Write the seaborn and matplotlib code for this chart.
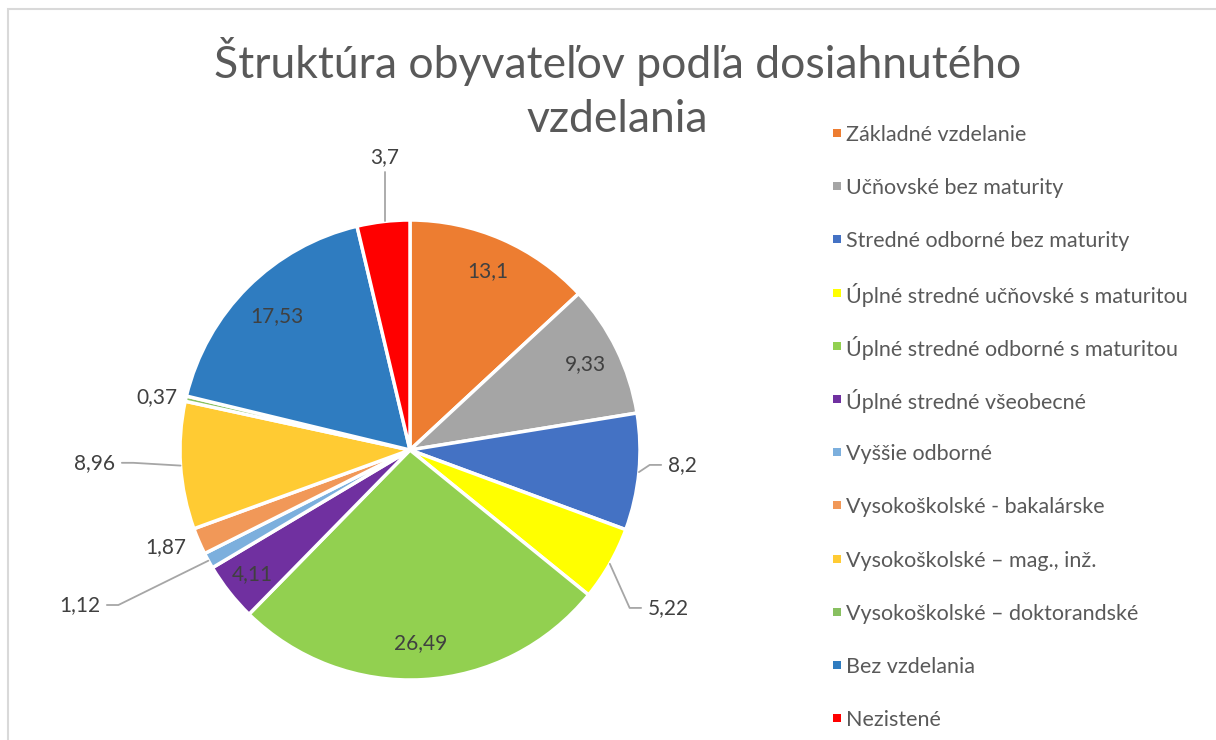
import numpy as np
import matplotlib
matplotlib.use("Agg")
import matplotlib.pyplot as plt
import seaborn as sns
from matplotlib.patches import Rectangle

# datos del grafico (porcentajes)
kategorie = ["Základné vzdelanie", "Učňovské bez maturity", "Stredné odborné bez maturity",
             "Úplné stredné učňovské s maturitou", "Úplné stredné odborné s maturitou",
             "Úplné stredné všeobecné", "Vyššie odborné", "Vysokoškolské - bakalárske",
             "Vysokoškolské – mag., inž.", "Vysokoškolské – doktorandské",
             "Bez vzdelania", "Nezistené"]
hodnoty = [13.1, 9.33, 8.2, 5.22, 26.49, 4.11, 1.12, 1.87, 8.96, 0.37, 17.53, 3.7]
farby = ["#ED7D31", "#A5A5A5", "#4472C4", "#FFFF00", "#92D050", "#7030A0",
         "#7CAFDD", "#F19858", "#FFCB33", "#88C060", "#2F7CC0", "#FF0000"]
titulok = ["Štruktúra obyvateľov podľa dosiahnutého", "vzdelania"]

# donde va cada etiqueta (radio, ajuste de angulo) y si lleva linea guia
label_r = [0.85, 0.85, 1.124, 1.242, 0.84, 0.87, 1.507, 1.059, 1.284, 1.035, 0.82, 1.279]
label_da = [0, 0, 2.2, -3.9, 0, 0, -2.2, 0, -1.4, 0, 0, -1.8]
leader = [False, False, True, True, False, False, True, False, True, False, False, True]

sns.set_theme(style="white")
plt.rcParams["font.family"] = ["Lato", "DejaVu Sans"]

fig = plt.figure(figsize=(12.16, 7.4), dpi=100)
cx, cy, rad = 410, 450, 230
ax = fig.add_axes([(cx - rad) / 1216, (740 - cy - rad) / 740, 2 * rad / 1216, 2 * rad / 740])

pal = sns.color_palette(farby)
wedges, _ = ax.pie(hodnoty, colors=pal, startangle=90, counterclock=False,
                   radius=1, wedgeprops=dict(edgecolor="white", linewidth=2.5))
ax.set_xlim(-1, 1)
ax.set_ylim(-1, 1)
ax.set_aspect("equal")
ax.axis("off")

# etiquetas con coma decimal
cum = np.cumsum([0] + hodnoty[:-1])
for i, v in enumerate(hodnoty):
    mid = 90 - (cum[i] + v / 2) * 3.6
    a = np.deg2rad(mid + label_da[i])
    tx, ty = label_r[i] * np.cos(a), label_r[i] * np.sin(a)
    if label_r[i] < 1 or abs(np.cos(a)) < 0.3:
        ha = "center"
    elif np.cos(a) > 0:
        ha = "left"
    else:
        ha = "right"
    txt = ("%g" % v).replace(".", ",")
    ax.text(tx, ty, txt, ha=ha, va="center", fontsize=15, color="#404040", clip_on=False)
    if leader[i]:
        m = np.deg2rad(mid)
        sx, sy = np.cos(m), np.sin(m)
        if ha == "left":
            xs, ys = [sx, tx - 0.08, tx - 0.03], [sy, ty, ty]
        elif ha == "right":
            xs, ys = [sx, tx + 0.08, tx + 0.03], [sy, ty, ty]
        else:
            xs, ys = [tx, tx], [np.sqrt(1 - tx ** 2), ty - 0.065]
        ax.plot(xs, ys, color="#A6A6A6", lw=1.3, clip_on=False)

# titulo en dos lineas separadas
for k, linea in enumerate(titulok):
    fig.text(0.508, 1 - (62 + k * 58) / 740, linea, ha="center", va="center",
             fontsize=32, color="#595959")

# leyenda a mano, filas con el mismo espacio
ly0, dy = 133, 53.2
for i, lab in enumerate(kategorie):
    y = 1 - (ly0 + i * dy) / 740
    fig.patches.append(Rectangle((833 / 1216, y - 4 / 740), 8 / 1216, 8 / 740,
                                 transform=fig.transFigure, color=pal[i], lw=0))
    fig.text(846 / 1216, y, lab, ha="left", va="center_baseline", fontsize=15.5, color="#595959")

# marco gris del grafico
fig.patches.append(Rectangle((8 / 1216, -0.1), 1.1, 1 - 9 / 740 + 0.1, transform=fig.transFigure,
                             fill=False, edgecolor="#D9D9D9", lw=1.5))

fig.savefig("out.png", dpi=100)
